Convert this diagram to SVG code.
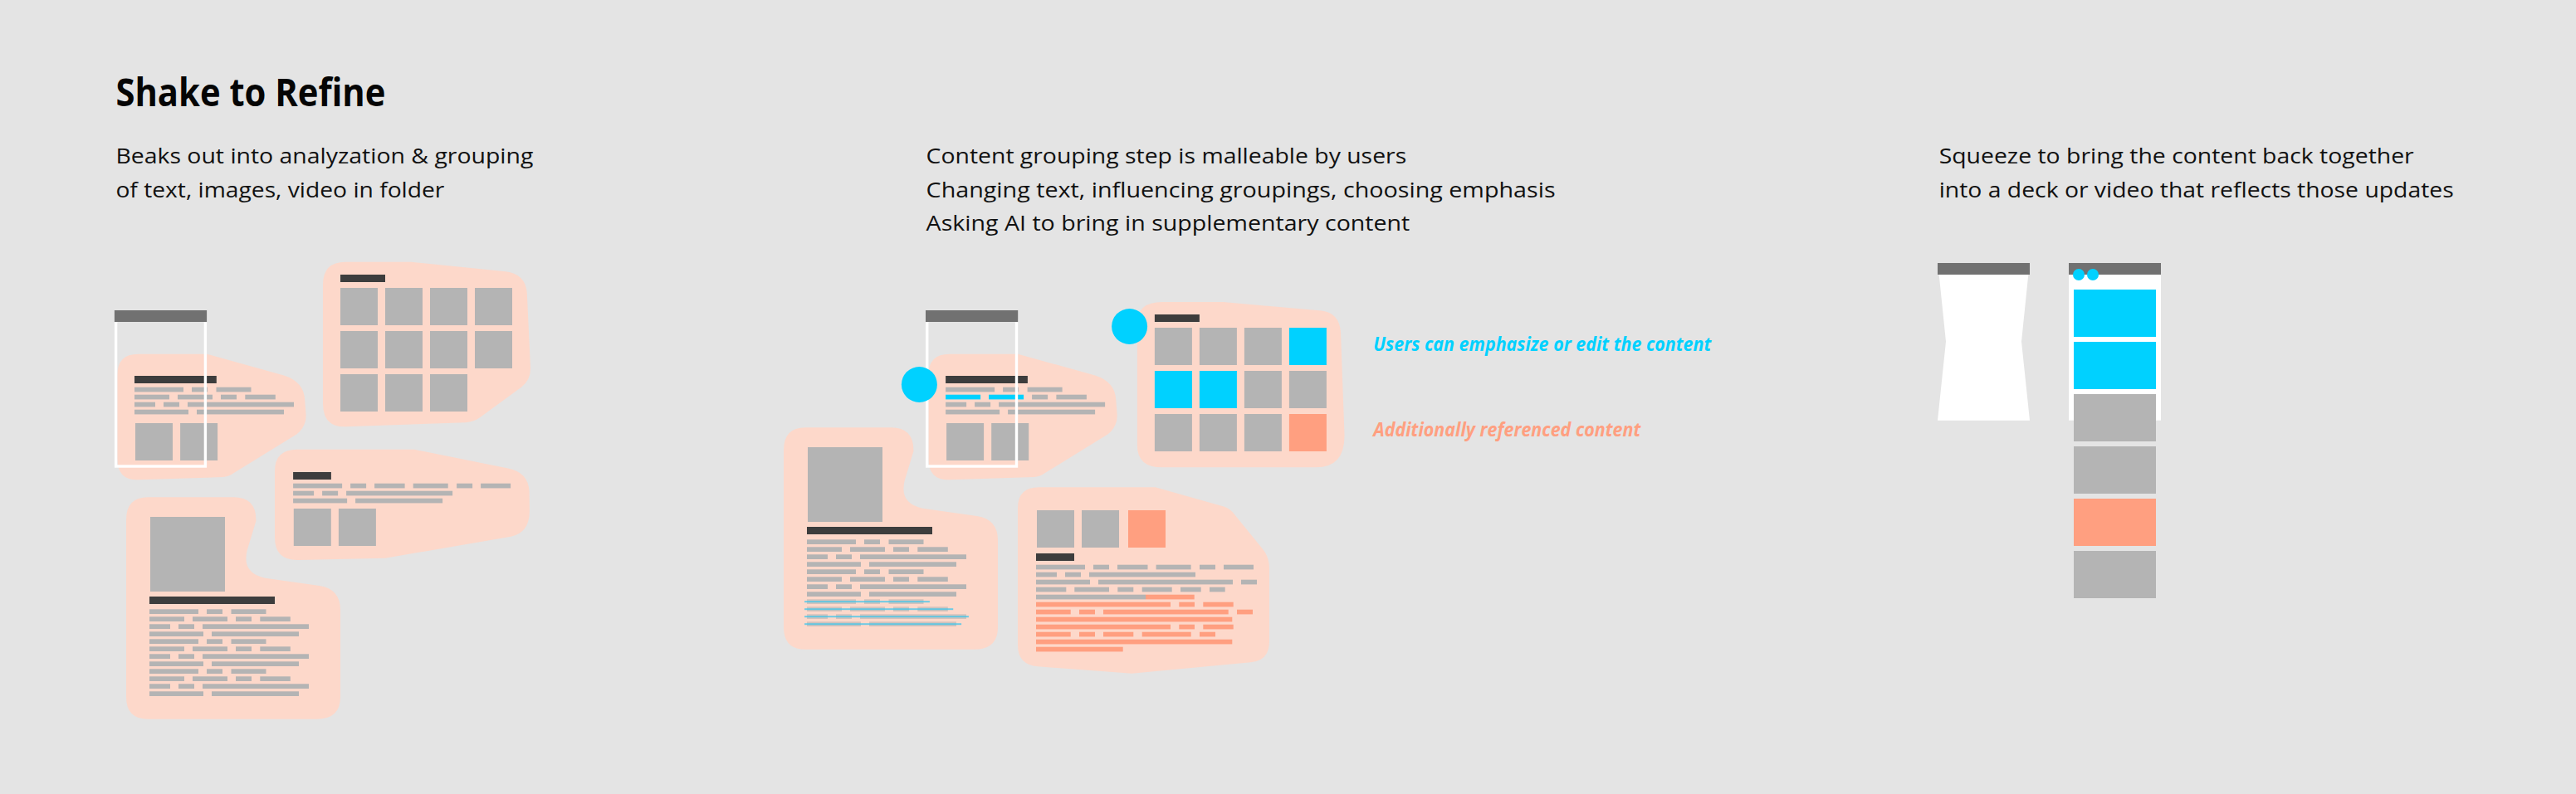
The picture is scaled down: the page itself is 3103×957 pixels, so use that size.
<svg xmlns="http://www.w3.org/2000/svg" width="3103" height="957" viewBox="0 0 3103 957">
<style>
.blob{fill:#FDD8CA}
.img{fill:#B4B4B4}
.bar{fill:#3D3D3D}
.hdr{fill:#717171}
.frame{fill:none;stroke:#FFFFFF;stroke-width:3.4}
.cy{fill:#00D1FF}
.sa{fill:#FF9F80}
.wh{fill:#FFFFFF}
.fade{opacity:0.6}
.strike{fill:#3CC6EC;opacity:0.75}
.t{font-family:"Open Sans","Liberation Sans",sans-serif;font-size:25.5px;fill:#111111}
.title{font-family:"Open Sans","Liberation Sans",sans-serif;font-size:46px;font-weight:700;fill:#050505}
.lab{font-family:"Open Sans","Liberation Sans",sans-serif;font-size:22.5px;font-weight:700;font-style:italic}
</style>
<defs>
<g id="rA"><rect x="0" y="0" width="59" height="5.7"/><rect x="69" y="0" width="19" height="5.7"/><rect x="98.5" y="0" width="42" height="5.7"/></g>
<g id="rB"><rect x="0" y="0" width="42" height="5.7"/><rect x="52" y="0" width="42" height="5.7"/><rect x="104" y="0" width="19" height="5.7"/><rect x="133.3" y="0" width="36.5" height="5.7"/></g>
<g id="rC"><rect x="0" y="0" width="25" height="5.7"/><rect x="35" y="0" width="19" height="5.7"/><rect x="64" y="0" width="128" height="5.7"/></g>
<g id="rD"><rect x="0" y="0" width="65" height="5.7"/><rect x="75" y="0" width="105" height="5.7"/></g>
<g id="rE"><rect x="0" y="0" width="59" height="5.7"/><rect x="69" y="0" width="19" height="5.7"/><rect x="98" y="0" width="36.5" height="5.7"/><rect x="144.6" y="0" width="42" height="5.7"/><rect x="197" y="0" width="19" height="5.7"/><rect x="226" y="0" width="36" height="5.7"/></g>
<g id="rF"><rect x="0" y="0" width="65" height="5.7"/><rect x="75" y="0" width="162" height="5.7"/><rect x="247" y="0" width="19" height="5.7"/></g>
<g id="rG"><rect x="0" y="0" width="36.3" height="5.7"/><rect x="46.3" y="0" width="41.7" height="5.7"/><rect x="98.3" y="0" width="19" height="5.7"/><rect x="127.7" y="0" width="36" height="5.7"/><rect x="174" y="0" width="24.7" height="5.7"/><rect x="209" y="0" width="18.7" height="5.7"/></g>
<g id="s6"><rect x="0" y="0" width="162" height="5.7"/><rect x="172.3" y="0" width="18.7" height="5.7"/><rect x="201.3" y="0" width="36.4" height="5.7"/></g>
<g id="s7"><rect x="0" y="0" width="41.7" height="5.7"/><rect x="52" y="0" width="19" height="5.7"/><rect x="81" y="0" width="150.7" height="5.7"/><rect x="242" y="0" width="19" height="5.7"/></g>
<g id="s8"><rect x="0" y="0" width="236.3" height="5.7"/></g>
<g id="s10"><rect x="0" y="0" width="41.7" height="5.7"/><rect x="52" y="0" width="19" height="5.7"/><rect x="81" y="0" width="36.3" height="5.7"/><rect x="127.7" y="0" width="59" height="5.7"/><rect x="197" y="0" width="19" height="5.7"/></g>
<path id="shapeText" d="M166.5,426.7 L249.1,426.7 L342,452.5 Q366,460 367.2,482 L368.6,500 Q369,514 357.6,523.3 L281.8,570 Q276,574.5 268,575 L166.5,578.3 Q141.3,579 141.3,553 L141.3,452 Q141.3,426.7 166.5,426.7 Z"/>
<path id="shapeArticle" d="M178.2,599.3 L281.5,599.3 Q309,599.3 308.4,628 L297.7,663.3 Q291,691 319.4,696.7 L384.8,706 Q410,710 410,735 L410,840 Q410,866.7 381.4,866.7 L178.2,866.7 Q152,866.7 152,840 L152,626.7 Q152,599.3 178.2,599.3 Z"/>
<g id="phoneFrame"><rect class="frame" x="139.6" y="386" width="107.8" height="176"/><rect class="hdr" x="137.9" y="374" width="111.2" height="14"/></g>
</defs>

<rect x="0" y="0" width="3103" height="957" fill="#E4E4E4"/>

<g id="texts">
<text class="title" x="139.4" y="127.7" textLength="325" lengthAdjust="spacingAndGlyphs">Shake to Refine</text>
<text class="t" x="139.4" y="197" textLength="503" lengthAdjust="spacingAndGlyphs">Beaks out into analyzation &amp; grouping</text>
<text class="t" x="139.4" y="237.5" textLength="396" lengthAdjust="spacingAndGlyphs">of text, images, video in folder</text>
<text class="t" x="1115.6" y="197" textLength="578.6" lengthAdjust="spacingAndGlyphs">Content grouping step is malleable by users</text>
<text class="t" x="1115.6" y="237.5" textLength="758" lengthAdjust="spacingAndGlyphs">Changing text, influencing groupings, choosing emphasis</text>
<text class="t" x="1115.6" y="278" textLength="582.7" lengthAdjust="spacingAndGlyphs">Asking AI to bring in supplementary content</text>
<text class="t" x="2335.7" y="197" textLength="572" lengthAdjust="spacingAndGlyphs">Squeeze to bring the content back together</text>
<text class="t" x="2335.7" y="237.5" textLength="620" lengthAdjust="spacingAndGlyphs">into a deck or video that reflects those updates</text>
<text class="lab" x="1654.3" y="422.7" fill="#00D1FF" textLength="407" lengthAdjust="spacingAndGlyphs">Users can emphasize or edit the content</text>
<text class="lab" x="1654.3" y="526" fill="#FF9F80" textLength="322" lengthAdjust="spacingAndGlyphs">Additionally referenced content</text>
</g>

<!-- LEFT SECTION -->
<g id="left-text-group">
<use href="#shapeText" class="blob"/>
<rect class="bar" x="162" y="453" width="98.8" height="9"/>
<use href="#rA" class="img" x="162" y="466.7"/>
<use href="#rB" class="img" x="162" y="475.7"/>
<use href="#rC" class="img" x="162" y="484.7"/>
<use href="#rD" class="img" x="162" y="493.7"/>
<rect class="img" x="163" y="510" width="45" height="45"/>
<rect class="img" x="217.1" y="510" width="45" height="45"/>
</g>
<g id="left-frame"><use href="#phoneFrame"/></g>

<g id="left-grid-group">
<path class="blob" d="M416.1,315.7 L495.3,315.7 L609,327.3 Q633,330 634.8,353.3 L639,443.3 Q639.5,458 627.9,466.7 L578,503.3 Q571,508.5 560.8,509.3 L416.1,514.3 Q389,515 389,486.7 L389,343 Q389,315.7 416.1,315.7 Z"/>
<rect class="bar" x="410" y="331" width="54" height="9"/>
<rect class="img" x="410" y="347" width="45" height="45"/><rect class="img" x="464" y="347" width="45" height="45"/><rect class="img" x="518" y="347" width="45" height="45"/><rect class="img" x="572" y="347" width="45" height="45"/>
<rect class="img" x="410" y="399" width="45" height="45"/><rect class="img" x="464" y="399" width="45" height="45"/><rect class="img" x="518" y="399" width="45" height="45"/><rect class="img" x="572" y="399" width="45" height="45"/>
<rect class="img" x="410" y="451" width="45" height="45"/><rect class="img" x="464" y="451" width="45" height="45"/><rect class="img" x="518" y="451" width="45" height="45"/>
</g>

<g id="left-text2-group">
<path class="blob" d="M357.6,541.7 L498.8,541.7 L612,564.5 Q636,569 637.6,592 L637.9,616.7 Q637.5,642 615.5,646.7 L464,672.7 L359,675 Q331,675.5 331,648 L331,568 Q331,541.7 357.6,541.7 Z"/>
<rect class="bar" x="353.1" y="569" width="45.8" height="9"/>
<use href="#rE" class="img" x="353.1" y="582.7"/>
<use href="#rC" class="img" x="353.1" y="591.7"/>
<use href="#rD" class="img" x="353.1" y="600.7"/>
<rect class="img" x="353.8" y="613" width="45" height="45"/>
<rect class="img" x="407.9" y="613" width="45" height="45"/>
</g>

<g id="left-article-group">
<use href="#shapeArticle" class="blob"/>
<rect class="img" x="181" y="623" width="90" height="90"/>
<rect class="bar" x="180" y="719" width="151" height="9"/>
<use href="#rA" class="img" x="180" y="734.3"/><use href="#rB" class="img" x="180" y="743.3"/><use href="#rC" class="img" x="180" y="752.3"/><use href="#rD" class="img" x="180" y="761.3"/>
<use href="#rA" class="img" x="180" y="770.3"/><use href="#rB" class="img" x="180" y="779.3"/><use href="#rC" class="img" x="180" y="788.3"/><use href="#rD" class="img" x="180" y="797.3"/>
<use href="#rA" class="img" x="180" y="806.3"/><use href="#rB" class="img" x="180" y="815.3"/><use href="#rC" class="img" x="180" y="824.3"/><use href="#rD" class="img" x="180" y="833.3"/>
</g>

<!-- MIDDLE SECTION -->
<g id="mid-text-group" transform="translate(977.1,0)">
<use href="#shapeText" class="blob"/>
<rect class="bar" x="162" y="453" width="98.8" height="9"/>
<use href="#rA" class="img" x="162" y="466.7"/>
<rect class="cy" x="162" y="475.7" width="42" height="5.7"/><rect class="cy" x="214" y="475.7" width="42" height="5.7"/><rect class="img" x="266" y="475.7" width="19" height="5.7"/><rect class="img" x="295.3" y="475.7" width="36.5" height="5.7"/>
<use href="#rC" class="img" x="162" y="484.7"/>
<use href="#rD" class="img" x="162" y="493.7"/>
<rect class="img" x="163" y="510" width="45" height="45"/>
<rect class="img" x="217.1" y="510" width="45" height="45"/>
</g>
<g id="mid-frame" transform="translate(977.1,0)"><use href="#phoneFrame"/></g>

<g id="mid-grid-group">
<path class="blob" d="M1399.8,364 L1473.5,364 L1592,374.5 Q1613,377 1615,400 L1619.5,523.3 Q1620.5,563.3 1585,563.3 L1399.8,563.3 Q1369.9,563.3 1369.9,536.7 L1369.9,390 Q1369.9,364 1399.8,364 Z"/>
<rect class="bar" x="1390.9" y="379" width="54" height="9"/>
<rect class="img" x="1390.9" y="395" width="45" height="45"/><rect class="img" x="1444.9" y="395" width="45" height="45"/><rect class="img" x="1498.9" y="395" width="45" height="45"/><rect class="cy" x="1552.9" y="395" width="45" height="45"/>
<rect class="cy" x="1390.9" y="447" width="45" height="45"/><rect class="cy" x="1444.9" y="447" width="45" height="45"/><rect class="img" x="1498.9" y="447" width="45" height="45"/><rect class="img" x="1552.9" y="447" width="45" height="45"/>
<rect class="img" x="1390.9" y="499" width="45" height="45"/><rect class="img" x="1444.9" y="499" width="45" height="45"/><rect class="img" x="1498.9" y="499" width="45" height="45"/><rect class="sa" x="1552.9" y="499" width="45" height="45"/>
</g>

<g id="mid-article-group" transform="translate(792,-84)">
<use href="#shapeArticle" class="blob"/>
<rect class="img" x="181" y="623" width="90" height="90"/>
<rect class="bar" x="180" y="719" width="151" height="9"/>
<use href="#rA" class="img" x="180" y="734.3"/><use href="#rB" class="img" x="180" y="743.3"/><use href="#rC" class="img" x="180" y="752.3"/><use href="#rD" class="img" x="180" y="761.3"/>
<use href="#rA" class="img" x="180" y="770.3"/><use href="#rB" class="img" x="180" y="779.3"/><use href="#rC" class="img" x="180" y="788.3"/><use href="#rD" class="img" x="180" y="797.3"/>
<g class="fade"><use href="#rA" class="img" x="180" y="806.3"/><use href="#rB" class="img" x="180" y="815.3"/><use href="#rC" class="img" x="180" y="824.3"/><use href="#rD" class="img" x="180" y="833.3"/></g>
<rect class="strike" x="177.1" y="808.2" width="150.8" height="2"/>
<rect class="strike" x="177.1" y="817.2" width="179.1" height="2"/>
<rect class="strike" x="177.1" y="826.2" width="197.8" height="2"/>
<rect class="strike" x="177.1" y="835.2" width="189" height="2"/>
</g>

<g id="mid-ref-group">
<path class="blob" d="M1251.7,587.3 L1391.7,587.3 L1474,610.5 Q1482,613 1487,620 L1522,663 Q1529,672 1529,685 L1529,773.3 Q1529,796 1506.7,798.3 L1363.3,811.7 L1250,803.3 Q1226,801 1226,778 L1226,612 Q1226,587.3 1251.7,587.3 Z"/>
<rect class="img" x="1249" y="615" width="45" height="45"/>
<rect class="img" x="1303" y="615" width="45" height="45"/>
<rect class="sa" x="1359" y="615" width="45" height="45"/>
<rect class="bar" x="1248" y="667" width="46" height="9"/>
<use href="#rE" class="img" x="1248" y="680.7"/>
<use href="#rC" class="img" x="1248" y="689.7"/>
<use href="#rF" class="img" x="1248" y="698.7"/>
<use href="#rG" class="img" x="1248" y="707.7"/>
<rect class="img" x="1248" y="716.7" width="132" height="5.7"/><rect class="sa" x="1380" y="716.7" width="58.7" height="5.7"/>
<use href="#s6" class="sa" x="1248" y="725.7"/>
<use href="#s7" class="sa" x="1248" y="734.7"/>
<use href="#s8" class="sa" x="1248" y="743.7"/>
<use href="#s6" class="sa" x="1248" y="752.7"/>
<use href="#s10" class="sa" x="1248" y="761.7"/>
<use href="#s8" class="sa" x="1248" y="770.7"/>
<rect class="sa" x="1248" y="779.7" width="104.7" height="5.7"/>
</g>

<g id="mid-markers">
<circle class="cy" cx="1107.4" cy="463.5" r="21.5"/>
<circle class="cy" cx="1360.6" cy="393.5" r="21.5"/>
</g>

<!-- RIGHT SECTION -->
<g id="right-squeeze">
<polygon class="wh" points="2335.7,331 2443.3,331 2435,411.7 2445,506.7 2334,506.7 2344,411.7"/>
<rect class="hdr" x="2334" y="317" width="111" height="14"/>
</g>
<g id="right-deck">
<rect class="wh" x="2492" y="331" width="111" height="175.7"/>
<rect class="hdr" x="2492" y="317" width="111" height="14"/>
<circle class="cy" cx="2504" cy="331" r="7"/>
<circle class="cy" cx="2521" cy="331" r="7"/>
<rect class="cy" x="2498" y="349" width="99" height="57"/>
<rect class="cy" x="2498" y="412" width="99" height="57"/>
<rect class="img" x="2498" y="475" width="99" height="57"/>
<rect class="img" x="2498" y="538" width="99" height="57"/>
<rect class="sa" x="2498" y="601" width="99" height="57"/>
<rect class="img" x="2498" y="664" width="99" height="57"/>
</g>
</svg>
